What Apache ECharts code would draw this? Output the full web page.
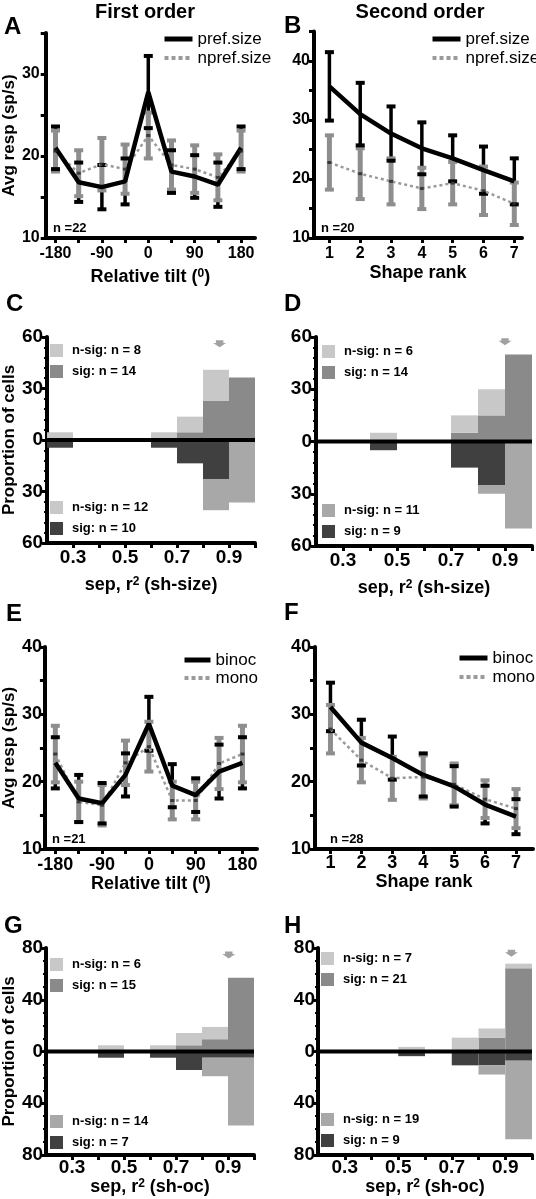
<!DOCTYPE html>
<html><head><meta charset="utf-8">
<script src="https://cdn.jsdelivr.net/npm/echarts@6/dist/echarts.min.js"></script>
<style>html,body{margin:0;padding:0;background:#fff}#c{width:536px;height:1199px}</style>
</head><body><div id="c"></div>
<script>
// ---------- DATA ----------
const tiltX = [-180, -135, -90, -45, 0, 45, 90, 135, 180];
const tiltTicks = [-180, -135, -90, -45, 0, 45, 90, 135, 180];
const tiltLabels = [-180, -90, 0, 90, 180];
const rankX = [1, 2, 3, 4, 5, 6, 7];

// A: first order, size
const aPref = [21.0, 16.8, 16.2, 16.9, 27.8, 18.1, 17.5, 16.5, 21.0];
const aPrefErr = [2.6, 2.4, 2.7, 2.8, 4.4, 2.6, 2.6, 2.7, 2.6];
const aNpref = [20.6, 17.9, 19.0, 18.4, 22.5, 18.9, 18.4, 17.4, 20.6];
const aNprefErr = [2.5, 2.8, 3.2, 3.0, 2.8, 3.0, 2.9, 2.8, 2.5];
// B: second order, size
const bPref = [35.7, 31.0, 27.7, 25.2, 23.5, 21.5, 19.6];
const bPrefErr = [5.8, 5.3, 4.6, 4.4, 3.9, 4.0, 3.9];
const bNpref = [22.8, 20.9, 19.6, 18.4, 19.3, 18.0, 15.8];
const bNprefErr = [4.6, 4.3, 3.9, 3.5, 3.6, 4.1, 3.6];
// E: first order, binoc/mono
const eBinoc = [22.8, 17.5, 16.8, 21.0, 28.6, 19.4, 18.0, 21.5, 22.8];
const eBinocErr = [3.8, 3.5, 3.0, 3.2, 4.0, 3.2, 2.5, 4.0, 3.8];
const eMono = [24.1, 17.0, 16.5, 22.8, 25.2, 17.2, 17.2, 22.7, 24.1];
const eMonoErr = [4.2, 3.0, 3.0, 3.3, 3.7, 2.8, 2.8, 3.8, 4.2];
// F: second order, binoc/mono
const fBinoc = [31.1, 25.8, 23.5, 21.0, 19.3, 16.6, 14.8];
const fBinocErr = [3.6, 3.4, 3.2, 3.2, 3.0, 2.8, 2.6];
const fMono = [27.8, 23.2, 20.5, 20.7, 19.6, 17.4, 16.0];
const fMonoErr = [3.6, 3.3, 3.2, 3.2, 3.1, 2.8, 2.9];

// Histograms (percent of cells), bins start at:
const histBins = [0.2, 0.3, 0.4, 0.5, 0.6, 0.7, 0.8, 0.9];
const histBinWidth = 0.1;
const histTicks = [0.3, 0.4, 0.5, 0.6, 0.7, 0.8, 0.9, 1.0];
const histLabels = [0.3, 0.5, 0.7, 0.9];
const cTopSig  = [0, 0, 0, 0, 0, 4.5, 22.7, 36.4];
const cTopNsig = [4.5, 0, 0, 0, 4.5, 9.1, 18.2, 0];
const cBotSig  = [4.5, 0, 0, 0, 4.5, 13.6, 22.7, 0];
const cBotNsig = [0, 0, 0, 0, 0, 0, 18.2, 36.4];
const dTopSig  = [0, 0, 0, 0, 0, 5, 15, 50];
const dTopNsig = [0, 0, 5, 0, 0, 10, 15, 0];
const dBotSig  = [0, 0, 5, 0, 0, 15, 25, 0];
const dBotNsig = [0, 0, 0, 0, 0, 0, 5, 50];
const gTopSig  = [0, 0, 0, 0, 0, 4.8, 9.5, 57.1];
const gTopNsig = [0, 0, 4.8, 0, 4.8, 9.5, 9.5, 0];
const gBotSig  = [0, 0, 4.8, 0, 4.8, 14.3, 4.8, 4.8];
const gBotNsig = [0, 0, 0, 0, 0, 0, 14.3, 52.4];
const hTopSig  = [0, 0, 0, 0, 0, 0, 10.7, 64.3];
const hTopNsig = [0, 0, 0, 3.6, 0, 10.7, 7.1, 3.6];
const hBotSig  = [0, 0, 0, 3.6, 0, 10.7, 10.7, 7.1];
const hBotNsig = [0, 0, 0, 0, 0, 0, 7.1, 60.7];
// median arrows [x, y]
const cMedian = [0.864, 56];
const dMedian = [0.90, 57.3];
const gMedian = [0.903, 74.6];
const hMedian = [0.923, 76];

// ---------- STYLE ----------
const FF = "'Liberation Sans', Arial, sans-serif";
const BLK = '#000';
const GRY = '#8e8e8e';
const C_TOP_NSIG = '#c8c8c8', C_TOP_SIG = '#8a8a8a', C_BOT_NSIG = '#a8a8a8', C_BOT_SIG = '#404040';

const grids = [
  {left: 43, top: 33, width: 212, height: 205},      // A
  {left: 314, top: 31.5, width: 208, height: 206.5}, // B
  {left: 43, top: 337, width: 212, height: 206},     // C
  {left: 316, top: 337, width: 216, height: 209},    // D
  {left: 43, top: 647, width: 214, height: 202},     // E
  {left: 315, top: 647, width: 218, height: 202},    // F
  {left: 43, top: 948, width: 211, height: 207},     // G
  {left: 318, top: 948, width: 214, height: 207}     // H
];

const xAxes = [], yAxes = [], series = [], legends = [], graphics = [];

function richName(a, s, b, fs) {
  return {
    text: '{a|' + a + '}{s|' + s + '}{a|' + b + '}',
    style: {rich: {
      a: {fontSize: fs, fontWeight: 'bold', fontFamily: FF, color: BLK},
      s: {fontSize: Math.round(fs * 0.68), fontWeight: 'bold', fontFamily: FF, color: BLK, verticalAlign: 'top', lineHeight: fs}
    }}
  };
}

function xAxis(gi, min, max, ticks, labels, fs, margin, name, nameGap, fmt) {
  const ax = {
    gridIndex: gi, type: 'value', min: min, max: max,
    axisLine: {show: true, onZero: false, lineStyle: {color: BLK, width: 4}},
    axisTick: {show: true, customValues: ticks, length: 5, lineStyle: {color: BLK, width: 3}},
    axisLabel: {customValues: labels, fontSize: fs, fontWeight: 'bold', fontFamily: FF, color: BLK, margin: margin,
      formatter: fmt || (v => String(v))},
    splitLine: {show: false},
    nameLocation: 'middle', nameGap: nameGap
  };
  if (name) {
    if (typeof name === 'string') {
      ax.name = name;
      ax.nameTextStyle = {fontSize: 18, fontWeight: 'bold', fontFamily: FF, color: BLK};
    } else {
      ax.name = name.text;
      ax.nameTextStyle = name.style;
    }
  }
  xAxes.push(ax);
}
function yAxis(gi, min, max, interval, fs, margin, name, nameGap, opts) {
  opts = opts || {};
  const ax = {
    gridIndex: gi, type: 'value', min: min, max: max, interval: interval,
    axisLine: {show: true, onZero: false, lineStyle: {color: BLK, width: 4}},
    axisTick: {show: true, length: 5, lineStyle: {color: BLK, width: 3}},
    axisLabel: {fontSize: fs, fontWeight: 'bold', fontFamily: FF, color: BLK, margin: margin,
      formatter: opts.fmt || (v => String(v))},
    splitLine: {show: false}
  };
  if (opts.minor) ax.minorTick = {show: true, splitNumber: opts.minor, length: 3, lineStyle: {color: BLK, width: 2}};
  if (opts.labels) ax.axisLabel.customValues = opts.labels;
  if (name) {
    ax.name = name; ax.nameLocation = 'middle'; ax.nameGap = nameGap;
    ax.nameTextStyle = {fontSize: 17, fontWeight: 'bold', fontFamily: FF, color: BLK};
  }
  yAxes.push(ax);
}

function errRender(color, stemW, capW, capH, part) {
  return function (params, api) {
    const x = api.value(0), y = api.value(1), e = api.value(2);
    const t = api.coord([x, y + e]), b = api.coord([x, y - e]);
    const ch = [];
    if (part !== 'caps') ch.push({type: 'line', shape: {x1: t[0], y1: t[1], x2: b[0], y2: b[1]}, style: {stroke: color, lineWidth: stemW}});
    if (part !== 'stem') {
      ch.push({type: 'rect', shape: {x: t[0] - capW / 2, y: t[1] - capH / 2, width: capW, height: capH}, style: {fill: color}});
      ch.push({type: 'rect', shape: {x: b[0] - capW / 2, y: b[1] - capH / 2, width: capW, height: capH}, style: {fill: color}});
    }
    return {type: 'group', children: ch};
  };
}

function linePanel(gi, xs, s1, e1, s2, e2, n1, n2) {
  const d1 = xs.map((x, i) => [x, s1[i], e1[i]]);
  const d2 = xs.map((x, i) => [x, s2[i], e2[i]]);
  const base = {xAxisIndex: gi, yAxisIndex: gi, silent: true, animation: false};
  series.push(Object.assign({type: 'custom', renderItem: errRender(BLK, 3.5, 9, 4, 'stem'), data: d1, z: 2}, base));
  series.push(Object.assign({type: 'custom', renderItem: errRender(GRY, 5, 9, 4, 'all'), data: d2, z: 3}, base));
  series.push(Object.assign({type: 'custom', renderItem: errRender(BLK, 3.5, 9, 4, 'caps'), data: d1, z: 4}, base));
  series.push(Object.assign({type: 'line', name: n2, data: xs.map((x, i) => [x, s2[i]]), symbol: 'none',
    lineStyle: {color: '#9a9a9a', width: 2.5, type: [3, 3]}, itemStyle: {color: '#9a9a9a'}, z: 5}, base));
  series.push(Object.assign({type: 'line', name: n1, data: xs.map((x, i) => [x, s1[i]]), symbol: 'none',
    lineStyle: {color: BLK, width: 4.5}, itemStyle: {color: BLK}, z: 6}, base));
  series.push(Object.assign({type: 'scatter', data: xs.map((x, i) => [x, s2[i]]), symbol: 'rect', symbolSize: [4, 3],
    itemStyle: {color: '#222'}, z: 7}, base));
}

function histRender(params, api) {
  const x0 = api.value(0), b = api.value(1), h = api.value(2);
  if (!h) return {type: 'group', children: []};
  const p0 = api.coord([x0, b]), p1 = api.coord([x0 + histBinWidth, b + h]);
  return {type: 'rect', shape: {x: Math.min(p0[0], p1[0]), y: Math.min(p0[1], p1[1]),
    width: Math.abs(p1[0] - p0[0]), height: Math.abs(p1[1] - p0[1])}, style: {fill: api.visual('color')}};
}

function histPanel(gi, topSig, topNsig, botSig, botNsig, med, names) {
  const base = {xAxisIndex: gi, yAxisIndex: gi, silent: true, animation: false, type: 'custom', renderItem: histRender};
  series.push(Object.assign({name: names[1], itemStyle: {color: C_TOP_SIG}, z: 2,
    data: histBins.map((x, i) => [x, 0, topSig[i]])}, base));
  series.push(Object.assign({name: names[0], itemStyle: {color: C_TOP_NSIG}, z: 2,
    data: histBins.map((x, i) => [x, topSig[i], topNsig[i]])}, base));
  series.push(Object.assign({name: names[3], itemStyle: {color: C_BOT_SIG}, z: 2,
    data: histBins.map((x, i) => [x, 0, -botSig[i]])}, base));
  series.push(Object.assign({name: names[2], itemStyle: {color: C_BOT_NSIG}, z: 2,
    data: histBins.map((x, i) => [x, -botSig[i], -botNsig[i]])}, base));
  series.push({type: 'line', xAxisIndex: gi, yAxisIndex: gi, silent: true, animation: false, symbol: 'none', z: 8,
    data: [[histBins[0], 0], [histBins[histBins.length - 1] + histBinWidth, 0]], lineStyle: {color: BLK, width: 4}});
  series.push({type: 'scatter', xAxisIndex: gi, yAxisIndex: gi, silent: true, animation: false, z: 9,
    data: [med], symbol: 'path://M3,0 L11,0 L11,3 L14,3 L7,8 L0,3 L3,3 Z', symbolSize: [13, 7],
    itemStyle: {color: '#8a8a8a'}});
}

const NOSYM = {color: 'rgba(0,0,0,0)', borderColor: 'rgba(0,0,0,0)', borderWidth: 0};
function lineLegend(left, top, names, iw, gap) {
  legends.push({orient: 'vertical', left: left, top: top, padding: 0, itemGap: gap, itemWidth: iw, itemHeight: 14,
    selectedMode: false,
    textStyle: {fontSize: 17, fontFamily: FF, color: BLK, lineHeight: 17},
    data: [{name: names[0], itemStyle: NOSYM, lineStyle: {color: BLK, width: 5}},
           {name: names[1], itemStyle: NOSYM, lineStyle: {color: '#9a9a9a', width: 4, type: [4, 3]}}]});
}
function histLegend(left, top, names, colors) {
  legends.push({orient: 'vertical', left: left, top: top, padding: 0, itemGap: 8, itemWidth: 13, itemHeight: 13,
    selectedMode: false, icon: 'rect',
    textStyle: {fontSize: 13, fontWeight: 'bold', fontFamily: FF, color: BLK, padding: [0, 0, 0, 4]},
    data: [{name: names[0], itemStyle: {color: colors[0]}}, {name: names[1], itemStyle: {color: colors[1]}}]});
}

const tiltName = richName('Relative tilt (', '0', ')', 18);
const sepSize = richName('sep, r', '2', ' (sh-size)', 18);
const sepOc = richName('sep, r', '2', ' (sh-oc)', 18);
const absFmt = v => String(Math.abs(v));
const f1 = v => v.toFixed(1);

// A
xAxis(0, -199, 207, tiltTicks, tiltLabels, 16, 8, tiltName, 30);
yAxis(0, 10, 35, 5, 16, 6, 'Avg resp (sp/s)', 26, {labels: [10, 20, 30]});
linePanel(0, tiltX, aPref, aPrefErr, aNpref, aNprefErr, 'pref.size', 'npref.size');
lineLegend(162, 30.5, ['pref.size', 'npref.size'], 28, 2);
// B
xAxis(1, 0.5, 7.25, rankX, rankX, 16, 8, 'Shape rank', 26);
yAxis(1, 10, 45, 5, 16, 4, null, 0, {labels: [10, 20, 30, 40]});
linePanel(1, rankX, bPref, bPrefErr, bNpref, bNprefErr, 'pref.size', 'npref.size');
lineLegend(430, 30.5, ['pref.size', 'npref.size'], 28, 2);
// C
xAxis(2, 0.2, 1.0, histTicks, histLabels, 19, 5, sepSize, 33, f1);
yAxis(2, -60, 60, 30, 19, 4, 'Proportion of cells', 22, {fmt: absFmt, minor: 5});
histPanel(2, cTopSig, cTopNsig, cBotSig, cBotNsig, cMedian, ['n-sig: n = 8', 'sig: n = 14', 'n-sig: n = 12', 'sig: n = 10']);
histLegend(50, 344, ['n-sig: n = 8', 'sig: n = 14'], [C_TOP_NSIG, C_TOP_SIG]);
histLegend(50, 501, ['n-sig: n = 12', 'sig: n = 10'], [C_TOP_NSIG, C_BOT_SIG]);
// D
xAxis(3, 0.2, 1.0, histTicks, histLabels, 19, 5, sepSize, 33, f1);
yAxis(3, -60, 60, 30, 19, 4, null, 0, {fmt: absFmt, minor: 5});
histPanel(3, dTopSig, dTopNsig, dBotSig, dBotNsig, dMedian, ['n-sig: n = 6', 'sig: n = 14', 'n-sig: n = 11', 'sig: n = 9']);
histLegend(322, 345, ['n-sig: n = 6', 'sig: n = 14'], [C_TOP_NSIG, C_TOP_SIG]);
histLegend(322, 504, ['n-sig: n = 11', 'sig: n = 9'], [C_BOT_NSIG, C_BOT_SIG]);
// E
xAxis(4, -200, 208, tiltTicks, tiltLabels, 18, 7, tiltName, 25);
yAxis(4, 10, 40, 5, 18, 3, 'Avg resp (sp/s)', 22, {labels: [10, 20, 30, 40]});
linePanel(4, tiltX, eBinoc, eBinocErr, eMono, eMonoErr, 'binoc', 'mono');
lineLegend(182, 651.5, ['binoc', 'mono'], 26, 1);
// F
xAxis(5, 0.5, 7.55, rankX, rankX, 18, 5, 'Shape rank', 22);
yAxis(5, 10, 40, 5, 18, 4, null, 0, {labels: [10, 20, 30, 40]});
linePanel(5, rankX, fBinoc, fBinocErr, fMono, fMonoErr, 'binoc', 'mono');
lineLegend(457, 649.5, ['binoc', 'mono'], 28, 2);
// G
xAxis(6, 0.2, 1.0, histTicks, histLabels, 19, 3, sepOc, 23, f1);
yAxis(6, -80, 80, 40, 19, 3, 'Proportion of cells', 22, {fmt: absFmt, minor: 4});
histPanel(6, gTopSig, gTopNsig, gBotSig, gBotNsig, gMedian, ['n-sig: n = 6', 'sig: n = 15', 'n-sig: n = 14', 'sig: n = 7']);
histLegend(50, 958, ['n-sig: n = 6', 'sig: n = 15'], [C_TOP_NSIG, C_TOP_SIG]);
histLegend(50, 1115, ['n-sig: n = 14', 'sig: n = 7'], [C_BOT_NSIG, C_BOT_SIG]);
// H
xAxis(7, 0.2, 1.0, histTicks, histLabels, 19, 3, sepOc, 23, f1);
yAxis(7, -80, 80, 40, 19, 3, null, 0, {fmt: absFmt, minor: 4});
histPanel(7, hTopSig, hTopNsig, hBotSig, hBotNsig, hMedian, ['n-sig: n = 7', 'sig: n = 21', 'n-sig: n = 19', 'sig: n = 9']);
histLegend(321, 952, ['n-sig: n = 7', 'sig: n = 21'], [C_TOP_NSIG, C_TOP_SIG]);
histLegend(321, 1113, ['n-sig: n = 19', 'sig: n = 9'], [C_BOT_NSIG, C_BOT_SIG]);

// texts
function txt(t, x, y, fs, align, weight) {
  graphics.push({type: 'text', silent: true, z: 20, style: {text: t, x: x, y: y, fontSize: fs, fontWeight: weight || 'bold',
    fontFamily: FF, fill: BLK, textAlign: align || 'left', textVerticalAlign: 'middle'}});
}
txt('First order', 145, 12, 20, 'center');
txt('Second order', 420, 12, 20, 'center');
txt('A', 4, 27, 24); txt('B', 284, 26, 24);
txt('C', 6, 304, 24); txt('D', 284, 304, 24);
txt('E', 6, 614, 24); txt('F', 284, 613, 24);
txt('G', 4, 926, 24); txt('H', 284, 926, 24);
txt('n =22', 53, 228, 13); txt('n =20', 321, 228, 13);
txt('n =21', 52, 839, 13); txt('n =28', 330, 839, 13);

const chart = echarts.init(document.getElementById('c'), null, {renderer: 'canvas'});
chart.setOption({
  backgroundColor: '#fff', animation: false,
  grid: grids, xAxis: xAxes, yAxis: yAxes, series: series, legend: legends, graphic: graphics
});
</script></body></html>
